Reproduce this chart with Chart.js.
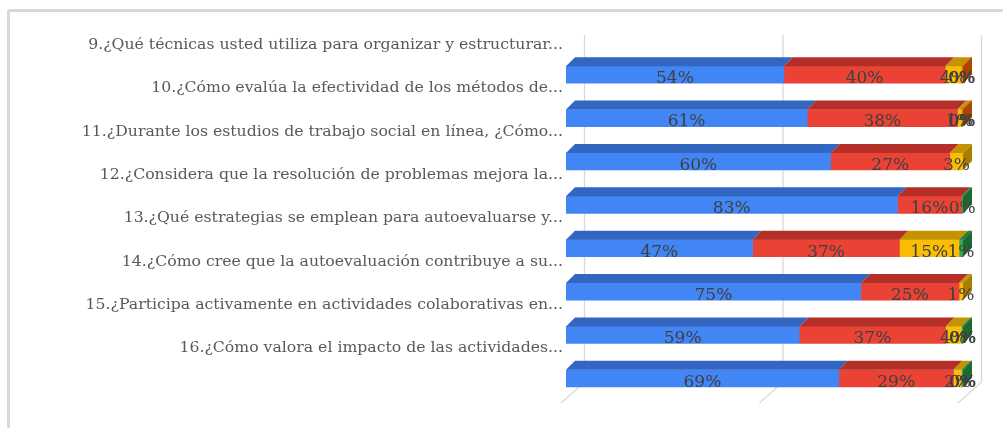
<!DOCTYPE html>
<html>
<head>
<meta charset="utf-8">
<script src="https://cdn.jsdelivr.net/npm/chart.js@4"></script>
<style>
  html, body { margin: 0; padding: 0; background: #ffffff; }
  #wrap { position: relative; width: 1003px; height: 428px; overflow: hidden; }
  #frame { position: absolute; left: 7px; top: 9px; width: 1010px; height: 440px;
           border: 3px solid #d9d9d9; border-radius: 3px; box-sizing: border-box; }
  canvas { position: absolute; left: 0; top: 0; }
</style>
</head>
<body>
<div id="wrap">
  <div id="frame"></div>
  <canvas id="c" width="1003" height="428"></canvas>
</div>
<script>
const categories = [
  "9.¿Qué técnicas usted utiliza para organizar y estructurar...",
  "10.¿Cómo evalúa la efectividad de los métodos de...",
  "11.¿Durante los estudios de trabajo social en línea, ¿Cómo...",
  "12.¿Considera que la resolución de problemas mejora la...",
  "13.¿Qué estrategias se emplean para autoevaluarse y...",
  "14.¿Cómo cree que la autoevaluación contribuye a su...",
  "15.¿Participa activamente en actividades colaborativas en...",
  "16.¿Cómo valora el impacto de las actividades..."
];
const seriesBlue   = [54, 61, 60, 83, 47, 75, 59, 69];
const seriesRed    = [40, 38, 27, 16, 37, 25, 37, 29];
const seriesYellow = [4, 1, 3, null, 15, 1, 4, 2];
const seriesGreen  = [0, 0, null, 0.4, 1, null, 0.4, 0.4];
const seriesOrange = [0.4, 0.4, null, null, null, null, 0, 0];
const gridValues = [0, 50, 100];

const rawSeries = [seriesBlue, seriesRed, seriesYellow, seriesGreen, seriesOrange];
const styles = [
  { front: '#4285f4', top: '#3366c0', side: '#2a55a3' },
  { front: '#ea4335', top: '#b32f28', side: '#9a2620' },
  { front: '#fbbc04', top: '#c69300', side: '#a87d00' },
  { front: '#34a853', top: '#237a3a', side: '#1d6a31' },
  { front: '#ff6d01', top: '#c25200', side: '#a84600' }
];
const totals = categories.map((_, i) => rawSeries.reduce((s, a) => s + (a[i] || 0), 0));

const datasets = rawSeries.map((arr, k) => ({
  label: 'S' + (k + 1),
  raw: arr,
  data: arr.map((v, i) => v == null ? null : v / totals[i] * 100),
  backgroundColor: styles[k].front,
  topColor: styles[k].top,
  sideColor: styles[k].side,
  borderWidth: 0,
  barThickness: 17
}));

const DX = 9, DY = 9;

const backGrid = {
  id: 'backGrid',
  beforeDatasetsDraw(chart) {
    const ctx = chart.ctx, xs = chart.scales.x;
    ctx.save();
    ctx.strokeStyle = '#d9d9d9';
    ctx.lineWidth = 1.3;
    gridValues.forEach(v => {
      const xb = xs.getPixelForValue(v) + 18.5;
      ctx.beginPath();
      ctx.moveTo(xb, 35);
      ctx.lineTo(xb, 382);
      ctx.lineTo(xb - 23.5, 403);
      ctx.stroke();
    });
    ctx.restore();
  }
};

const bars3d = {
  id: 'bars3d',
  afterDatasetsDraw(chart) {
    const ctx = chart.ctx;
    ctx.save();
    for (let i = 0; i < categories.length; i++) {
      let last = null;
      chart.data.datasets.forEach((ds, di) => {
        const el = chart.getDatasetMeta(di).data[i];
        if (!el || ds.data[i] == null) return;
        const p = el.getProps(['x', 'y', 'base', 'height'], true);
        const x0 = Math.min(p.base, p.x), x1 = Math.max(p.base, p.x);
        const yTop = p.y - p.height / 2, yBot = p.y + p.height / 2;
        if (x1 - x0 > 0.3) {
          ctx.fillStyle = ds.topColor;
          ctx.beginPath();
          ctx.moveTo(x0, yTop);
          ctx.lineTo(x0 + DX, yTop - DY);
          ctx.lineTo(x1 + DX, yTop - DY);
          ctx.lineTo(x1, yTop);
          ctx.closePath();
          ctx.fill();
          last = { x1, yTop, yBot, color: ds.sideColor };
        }
      });
      if (last) {
        ctx.fillStyle = last.color;
        ctx.beginPath();
        ctx.moveTo(last.x1, last.yTop);
        ctx.lineTo(last.x1 + DX, last.yTop - DY);
        ctx.lineTo(last.x1 + DX, last.yBot - DY);
        ctx.lineTo(last.x1, last.yBot);
        ctx.closePath();
        ctx.fill();
      }
    }
    // data labels
    ctx.font = '17px "DejaVu Serif"';
    ctx.fillStyle = '#404040';
    ctx.textAlign = 'center';
    ctx.textBaseline = 'middle';
    chart.data.datasets.forEach((ds, di) => {
      chart.getDatasetMeta(di).data.forEach((el, i) => {
        if (ds.raw[i] == null) return;
        const p = el.getProps(['x', 'y', 'base'], true);
        ctx.fillText(Math.round(ds.raw[i]) + '%', (p.x + p.base) / 2, p.y + 4);
      });
    });
    ctx.restore();
  }
};

new Chart(document.getElementById('c'), {
  type: 'bar',
  data: { labels: categories, datasets },
  options: {
    indexAxis: 'y',
    responsive: false,
    animation: false,
    devicePixelRatio: 1,
    layout: { padding: { top: 53, bottom: 28, left: 0, right: 40 } },
    plugins: { legend: { display: false }, tooltip: { enabled: false } },
    scales: {
      x: { stacked: true, min: 0, max: 100, display: false },
      y: {
        stacked: true,
        grid: { display: false, drawTicks: false },
        border: { display: false },
        afterFit(s) { s.width = 566; },
        ticks: {
          padding: 3,
          labelOffset: -30,
          color: '#595959',
          font: { family: '"DejaVu Serif"', size: 15.7 }
        }
      }
    }
  },
  plugins: [backGrid, bars3d]
});
</script>
</body>
</html>
